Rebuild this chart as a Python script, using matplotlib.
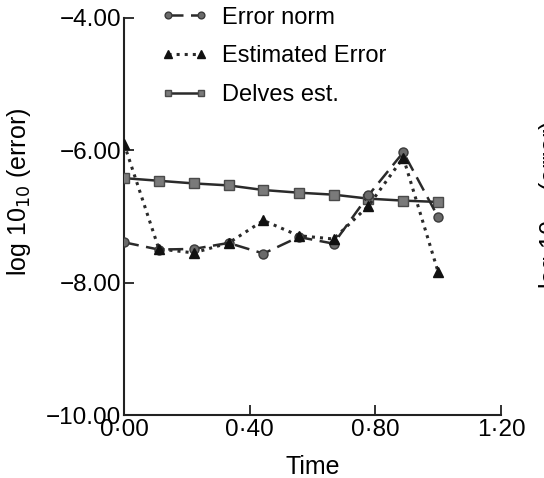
import numpy as np
import matplotlib
matplotlib.use("Agg")
import matplotlib.pyplot as plt
from matplotlib.ticker import FuncFormatter

plt.rcParams["font.family"] = ["Liberation Sans", "DejaVu Sans"]

# ---------- data ----------
time = [0.0, 0.111, 0.222, 0.333, 0.444, 0.556, 0.667, 0.778, 0.889, 1.0]
error_norm = [-7.39, -7.50, -7.49, -7.40, -7.56, -7.31, -7.41, -6.68, -6.03, -7.01]
estimated_error = [-5.90, -7.49, -7.55, -7.40, -7.06, -7.29, -7.34, -6.84, -6.11, -7.84]
delves_est = [-6.42, -6.46, -6.50, -6.53, -6.60, -6.64, -6.67, -6.73, -6.76, -6.78]
x_ticks = [0.0, 0.4, 0.8, 1.2]
y_ticks = [-10.0, -8.0, -6.0, -4.0]

# ---------- canvas ----------
fig = plt.figure(figsize=(5.44, 4.78), dpi=100)
ax = fig.add_axes([124 / 544, 63 / 478, (501 - 124) / 544, (460 - 63) / 478])

ax.plot(time, delves_est, "-", color="#2a2a2a", lw=1.8,
        marker="s", ms=6.5, mfc="#7a7a7a", mec="#4a4a4a", label="Delves est.", zorder=3)
ax.plot(time, error_norm, color="#2a2a2a", lw=1.8, dashes=(6, 3),
        marker="o", ms=6.5, mfc="#6a6a6a", mec="#3a3a3a", label="Error norm", zorder=4)
ax.plot(time, estimated_error, ":", color="#2a2a2a", lw=2.2,
        marker="^", ms=7, mfc="#111111", mec="#111111", label="Estimated Error", zorder=5)

# ---------- axes ----------
ax.set_xlim(0, 1.2)
ax.set_ylim(-10, -4)
ax.set_xticks(x_ticks)
ax.set_yticks(y_ticks)
ax.xaxis.set_major_formatter(FuncFormatter(lambda v, p: f"{v:.2f}".replace(".", "\u00b7")))
ax.yaxis.set_major_formatter(FuncFormatter(lambda v, p: f"{v:.2f}".replace("-", "\u2212")))
ax.tick_params(direction="in", length=7, width=1.3, labelsize=17.5, pad=2, color="#222222")
ax.tick_params(axis="x", pad=3)
for side in ["top", "right"]:
    ax.spines[side].set_visible(False)
for side in ["left", "bottom"]:
    ax.spines[side].set_linewidth(1.5)
    ax.spines[side].set_color("#222222")

ax.set_xlabel("Time", fontsize=18, labelpad=10)
ax.set_ylabel("log 10$_{10}$ (error)", fontsize=18)
ax.yaxis.set_label_coords(-91 / 377, 0.563)

# legend, handles ordered as in the reference
h, l = ax.get_legend_handles_labels()
order = [1, 2, 0]
ax.legend([h[i] for i in order], [l[i] for i in order], loc="upper left",
          bbox_to_anchor=(0.054, 1.07), frameon=False, fontsize=17,
          handlelength=2.0, handletextpad=0.6, labelspacing=0.7, numpoints=2,
          markerscale=0.75, borderpad=0.2)

# cut-off label of the neighbouring panel
fig.text(551 / 544, 1 - 205 / 478, "log 10$_{10}$ (error)", rotation=90,
         ha="center", va="center", fontsize=18)

fig.savefig("out.png", dpi=100)
